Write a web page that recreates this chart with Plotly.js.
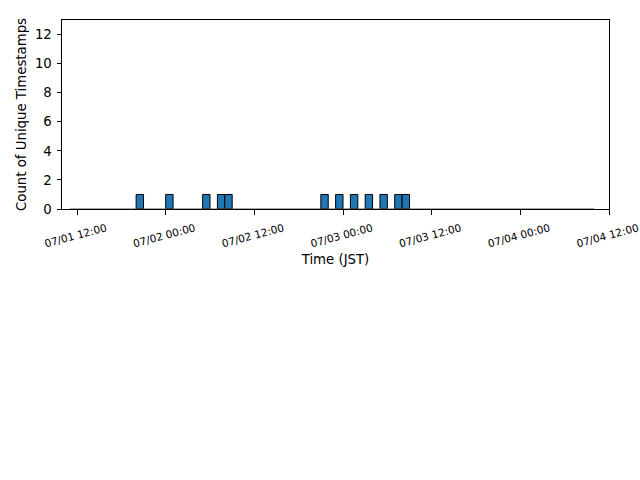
<!DOCTYPE html>
<html>
<head>
<meta charset="utf-8">
<script src="https://cdn.plot.ly/plotly-3.0.1.min.js"></script>
<style>
  html, body { margin: 0; padding: 0; background: #fff; }
  #chart { width: 640px; height: 480px; }
</style>
</head>
<body>
<div id="chart"></div>
<script>
// Hourly histogram of unique timestamps (JST)
const binStarts = [
  '2024-07-01 20:00', '2024-07-02 00:00', '2024-07-02 05:00', '2024-07-02 07:00',
  '2024-07-02 08:00', '2024-07-02 21:00', '2024-07-02 23:00', '2024-07-03 01:00',
  '2024-07-03 03:00', '2024-07-03 05:00', '2024-07-03 07:00', '2024-07-03 08:00'
];
const counts = [1, 1, 1, 1, 1, 1, 1, 1, 1, 1, 1, 1];
const histRange = ['2024-07-01 11:00', '2024-07-04 10:00'];
const xRange = ['2024-07-01 09:58', '2024-07-04 12:00'];
const yRange = [0, 13];

const HOUR = 3600 * 1000;
const toMs = s => new Date(s.replace(' ', 'T') + ':00Z').getTime();
const fmt = ms => new Date(ms).toISOString().slice(0, 16).replace('T', ' ');

// bars sit over their one-hour bin
const centers = binStarts.map(s => fmt(toMs(s) + HOUR / 2));

const bars = {
  type: 'bar',
  x: centers,
  y: counts,
  width: binStarts.map(() => HOUR),
  marker: { color: '#1f77b4', line: { color: '#000000', width: 1 } },
  hoverinfo: 'x+y'
};

// outline of the empty bins along zero
const baseline = {
  type: 'scatter',
  mode: 'lines',
  x: histRange,
  y: [0, 0],
  line: { color: '#555555', width: 1.2 },
  hoverinfo: 'skip'
};

const font = { family: 'DejaVu Sans, sans-serif', color: '#000000' };

const layout = {
  width: 640,
  height: 480,
  margin: { l: 62, r: 31, t: 20, b: 271 },
  paper_bgcolor: '#ffffff',
  plot_bgcolor: '#ffffff',
  showlegend: false,
  bargap: 0,
  font: font,
  xaxis: {
    type: 'date',
    range: xRange,
    tick0: '2024-07-01 12:00',
    dtick: 12 * HOUR,
    tickformat: '%m/%d %H:%M',
    tickangle: -15,
    ticklabelshift: 29,
    ticklabelstandoff: 4,
    ticklabeloverflow: 'allow',
    tickfont: { family: font.family, size: 10.5, color: '#000' },
    ticks: 'outside',
    ticklen: 4.5,
    tickwidth: 1,
    tickcolor: '#000',
    showline: true,
    linecolor: '#000',
    linewidth: 1,
    mirror: true,
    showgrid: false,
    zeroline: false,
    title: { text: 'Time (JST)', font: { family: font.family, size: 13.3, color: '#000' }, standoff: 6 }
  },
  yaxis: {
    range: yRange,
    tickvals: [0, 2, 4, 6, 8, 10, 12],
    ticklabelstandoff: 2,
    tickfont: { family: font.family, size: 13.3, color: '#000' },
    ticks: 'outside',
    ticklen: 4.5,
    tickwidth: 1,
    tickcolor: '#000',
    showline: true,
    linecolor: '#000',
    linewidth: 1,
    mirror: true,
    showgrid: false,
    zeroline: false,
    title: { text: 'Count of Unique Timestamps', font: { family: font.family, size: 13.3, color: '#000' }, standoff: 5 }
  }
};

Plotly.newPlot('chart', [baseline, bars], layout, { staticPlot: true, displayModeBar: false });
</script>
</body>
</html>
